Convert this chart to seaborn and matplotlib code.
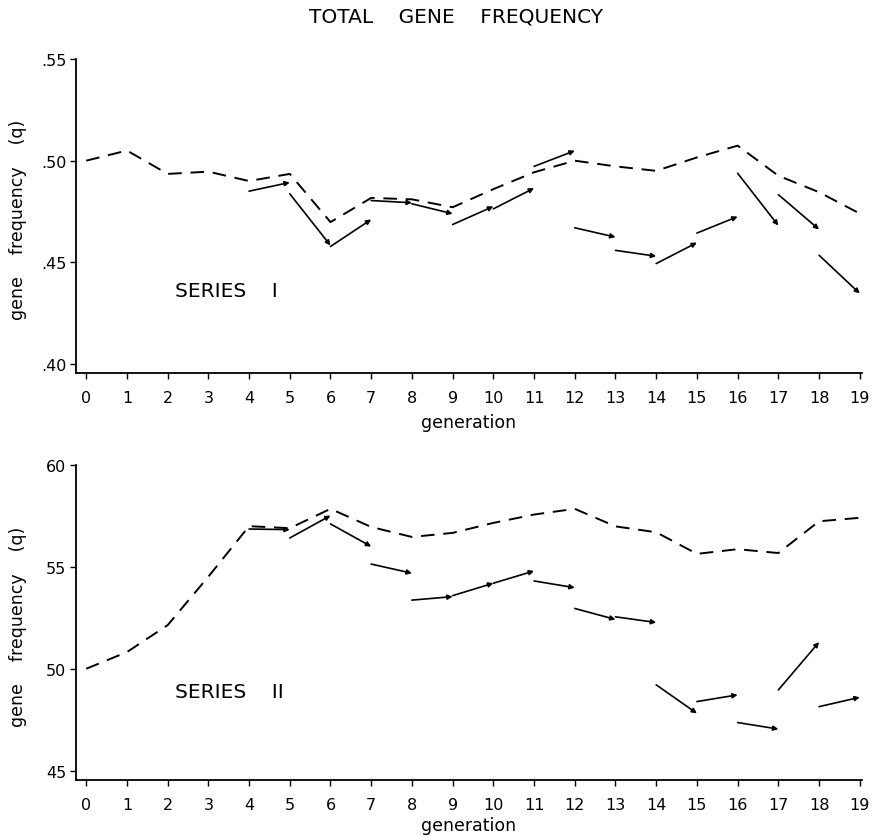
import matplotlib
matplotlib.use("Agg")
import matplotlib.pyplot as plt
import seaborn as sns
import pandas as pd

# generations on the x axis
generations = list(range(20))

# total gene frequency (dashed line), Series I and Series II
total_I = [0.500, 0.505, 0.4935, 0.4946, 0.490, 0.4935, 0.4698, 0.4817, 0.481, 0.4771,
           0.486, 0.4943, 0.500, 0.4972, 0.495, 0.5016, 0.5074, 0.4926, 0.4845, 0.474]
total_II = [50.0, 50.82, 52.14, 54.52, 57.0, 56.9, 57.85, 56.96, 56.47, 56.67,
            57.16, 57.57, 57.85, 56.99, 56.70, 55.64, 55.87, 55.68, 57.24, 57.41]

# arrows: from generation g (start value) to g+1 (end value)
arrow_gen = list(range(4, 19))
arrow_I_start = [0.485, 0.4837, 0.4578, 0.4804, 0.4788, 0.4686, 0.4763, 0.4972,
                 0.467, 0.4559, 0.4494, 0.4644, 0.4938, 0.4833, 0.4535]
arrow_I_end = [0.4893, 0.4583, 0.4711, 0.4793, 0.4739, 0.4775, 0.4865, 0.5049,
               0.4624, 0.453, 0.4597, 0.4725, 0.4681, 0.4662, 0.4347]
arrow_II_start = [56.86, 56.42, 57.11, 55.14, 53.37, 53.59, 54.2, 54.31,
                  52.96, 52.55, 49.21, 48.39, 47.36, 48.96, 48.14]
arrow_II_end = [56.83, 57.52, 56.0, 54.69, 53.54, 54.2, 54.8, 53.98,
                52.42, 52.27, 47.81, 48.72, 47.04, 51.31, 48.60]

sns.set_style("ticks", {'axes.edgecolor': 'black', 'text.color': 'black',
                        'axes.labelcolor': 'black', 'xtick.color': 'black',
                        'ytick.color': 'black'})
plt.rcParams['font.family'] = ['DejaVu Sans']

fig = plt.figure(figsize=(8.76, 8.37), dpi=100)
ax1 = fig.add_axes([0.0868, 0.5532, 0.897, 0.3751])
ax2 = fig.add_axes([0.0868, 0.0669, 0.897, 0.3763])


def draw_panel(ax, total, starts, ends, ylim, yticks, yticklabels, label, label_pos, xlabelpad):
    df = pd.DataFrame({'generation': generations, 'q': total})
    sns.lineplot(data=df, x='generation', y='q', ax=ax, color='black',
                 linewidth=1.4, linestyle=(0, (7, 4.5)))
    for g, a, b in zip(arrow_gen, starts, ends):
        ax.annotate('', xy=(g + 1, b), xytext=(g, a),
                    arrowprops=dict(arrowstyle='-|>', color='black', lw=1.2,
                                    mutation_scale=7, shrinkA=0, shrinkB=0))
    ax.set_xlim(-0.25, 19.05)
    ax.set_ylim(*ylim)
    ax.set_xticks(generations)
    ax.set_xticklabels([str(g) for g in generations], fontsize=11.5)
    ax.set_yticks(yticks)
    ax.set_yticklabels(yticklabels, fontsize=11.5)
    ax.set_xlabel('generation', fontsize=12.5, labelpad=xlabelpad)
    ax.set_ylabel('gene    frequency    (q)', fontsize=12.5)
    ax.yaxis.set_label_coords(-0.062, 0.49)
    ax.tick_params(axis='x', length=4, width=1, pad=8)
    ax.tick_params(axis='y', length=4, width=1, pad=3)
    for s in ['left', 'bottom']:
        ax.spines[s].set_linewidth(1.3)
    sns.despine(ax=ax)
    ax.text(label_pos[0], label_pos[1], label, fontsize=14.5, va='center', ha='left')


draw_panel(ax1, total_I, arrow_I_start, arrow_I_end, (0.3956, 0.55),
           [0.40, 0.45, 0.50, 0.55], ['.40', '.45', '.50', '.55'],
           'SERIES    I', (2.18, 0.4363), 6)
draw_panel(ax2, total_II, arrow_II_start, arrow_II_end, (44.54, 60),
           [45, 50, 55, 60], ['45', '50', '55', '60'],
           'SERIES    II', (2.18, 48.89), 3)

fig.text(0.5205, 0.98, 'TOTAL    GENE    FREQUENCY', ha='center', va='center', fontsize=14.5)

fig.savefig('out.png', dpi=100)
